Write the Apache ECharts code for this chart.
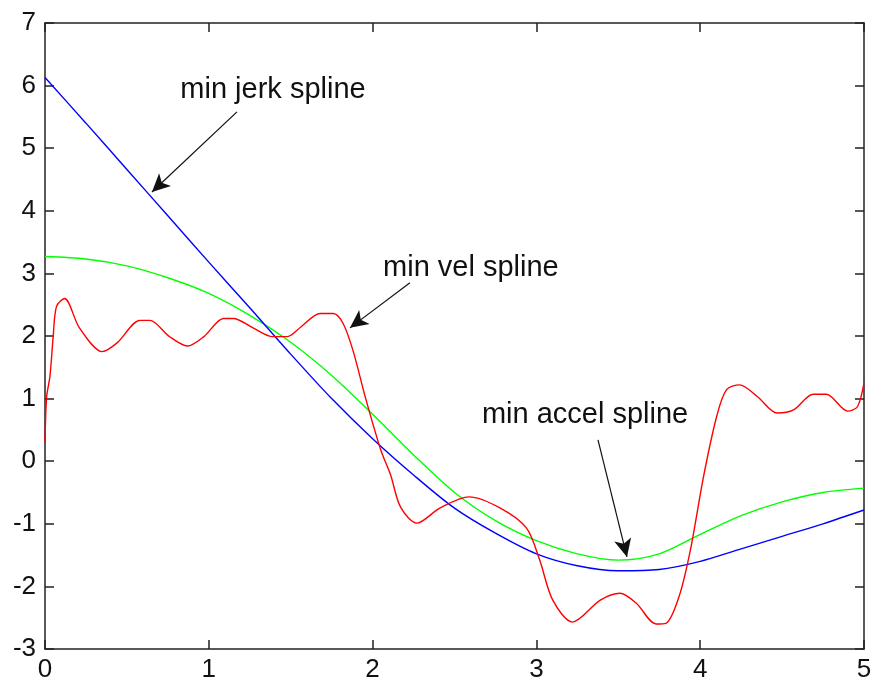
<!DOCTYPE html>
<html>
<head>
<meta charset="utf-8">
<script src="https://cdn.jsdelivr.net/npm/echarts@6/dist/echarts.min.js"></script>
<style>html,body{margin:0;padding:0;background:#fff}#c{width:875px;height:687px}</style>
</head>
<body>
<div id="c"></div>
<script>
// x ticks / y ticks
const xTicks = [0, 1, 2, 3, 4, 5];
const yTicks = [-3, -2, -1, 0, 1, 2, 3, 4, 5, 6, 7];

// min jerk spline (blue)
const jerkX = [0, 0.25, 0.5, 0.75, 1.0, 1.25, 1.5, 1.75, 2.0, 2.25, 2.5, 2.75, 3.0, 3.25, 3.5, 3.75, 4.0, 4.25, 4.5, 4.75, 5.0];
const jerkY = [6.13, 5.40, 4.66, 3.92, 3.18, 2.45, 1.71, 1.0, 0.36, -0.22, -0.75, -1.15, -1.48, -1.67, -1.75, -1.73, -1.6, -1.4, -1.2, -1.0, -0.78];

// min vel spline (green)
const velX = [0, 0.25, 0.5, 0.75, 1.0, 1.25, 1.5, 1.75, 2.0, 2.25, 2.5, 2.75, 3.0, 3.25, 3.5, 3.75, 4.0, 4.25, 4.5, 4.75, 5.0];
const velY = [3.27, 3.23, 3.12, 2.93, 2.68, 2.33, 1.9, 1.37, 0.75, 0.1, -0.5, -0.95, -1.27, -1.48, -1.58, -1.48, -1.17, -0.87, -0.65, -0.5, -0.43];

// min accel spline (red)
const accX = [0, 0.01, 0.03, 0.05, 0.07, 0.12, 0.21, 0.35, 0.44, 0.58, 0.64, 0.76, 0.87, 0.97, 1.09, 1.15, 1.27, 1.39, 1.48, 1.56, 1.68, 1.76, 1.82, 1.88, 1.96, 2.05, 2.11, 2.17, 2.27, 2.41, 2.59, 2.78, 2.94, 3.02, 3.1, 3.22, 3.39, 3.51, 3.61, 3.73, 3.79, 3.87, 3.94, 4.02, 4.1, 4.16, 4.24, 4.35, 4.47, 4.57, 4.69, 4.77, 4.9, 4.96, 5.0];
const accY = [0.3, 1.03, 1.35, 1.99, 2.47, 2.6, 2.13, 1.75, 1.89, 2.25, 2.25, 1.99, 1.84, 1.99, 2.28, 2.28, 2.13, 1.99, 1.99, 2.14, 2.36, 2.36, 2.2, 1.77, 0.98, 0.18, -0.22, -0.73, -0.99, -0.75, -0.57, -0.75, -1.07, -1.58, -2.22, -2.57, -2.22, -2.11, -2.27, -2.6, -2.59, -2.17, -1.42, -0.25, 0.71, 1.14, 1.22, 1.03, 0.77, 0.82, 1.07, 1.07, 0.8, 0.87, 1.25];

// annotations (data coordinates)
const labelText = ['min jerk spline', 'min vel spline', 'min accel spline'];
const labelX = [1.392, 2.60, 3.297];
const labelY = [5.93, 3.09, 0.74];
const arrowFrom = [[1.172, 5.58], [2.228, 2.85], [3.376, 0.34]];
const arrowTo = [[0.653, 4.30], [1.862, 2.13], [3.553, -1.53]];

const zip = (xs, ys) => xs.map((x, i) => [x, ys[i]]);
const axisColor = '#222';
const font = 'Liberation Sans, Arial, sans-serif';

function xAxis(pos, showLabel) {
  return {
    type: 'value', position: pos, min: 0, max: 5, interval: 1,
    axisLine: { show: true, onZero: false, lineStyle: { color: axisColor, width: 1.5 } },
    axisTick: { show: true, inside: true, length: 9, lineStyle: { color: axisColor, width: 1.5 } },
    axisLabel: { show: showLabel, color: '#111', fontSize: 26, fontFamily: font, margin: 8 },
    splitLine: { show: false }
  };
}
function yAxis(pos, showLabel) {
  return {
    type: 'value', position: pos, min: -3, max: 7, interval: 1,
    axisLine: { show: true, onZero: false, lineStyle: { color: axisColor, width: 1.5 } },
    axisTick: { show: true, inside: true, length: 9, lineStyle: { color: axisColor, width: 1.5 } },
    axisLabel: { show: showLabel, color: '#111', fontSize: 26, fontFamily: font, margin: 9 },
    splitLine: { show: false }
  };
}

const chart = echarts.init(document.getElementById('c'));
chart.setOption({
  animation: false,
  backgroundColor: '#fff',
  grid: { left: 45, right: 11, top: 23, bottom: 38 },
  xAxis: [xAxis('bottom', true), xAxis('top', false)],
  yAxis: [yAxis('left', true), yAxis('right', false)],
  series: [
    { type: 'line', data: zip(jerkX, jerkY), smooth: 0.3, showSymbol: false,
      lineStyle: { color: '#0000ff', width: 1.4 }, z: 3,
      markLine: {
        silent: true, symbol: ['none', 'arrow'], symbolSize: [13, 18],
        lineStyle: { color: '#111', width: 1.2, type: 'solid' },
        label: { show: false },
        data: arrowFrom.map((f, i) => [{ coord: f }, { coord: arrowTo[i] }])
      }
    },
    { type: 'line', data: zip(velX, velY), smooth: 0.3, showSymbol: false,
      lineStyle: { color: '#00ff00', width: 1.4 }, z: 2 },
    { type: 'line', data: zip(accX, accY), smooth: 0.3, showSymbol: false,
      lineStyle: { color: '#ff0000', width: 1.4 }, z: 4 },
    { type: 'scatter', symbolSize: 0, silent: true,
      itemStyle: { opacity: 1 },
      data: labelText.map((t, i) => [labelX[i], labelY[i], t]),
      label: { show: true, position: 'inside', formatter: p => p.data[2],
        color: '#111', opacity: 1, textBorderWidth: 0, textBorderColor: 'transparent',
        fontSize: 29, fontFamily: font } }
  ]
});
</script>
</body>
</html>
